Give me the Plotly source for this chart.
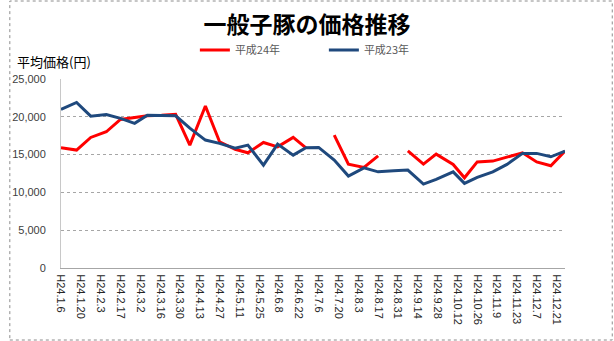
import datetime as dt
import plotly.graph_objects as go

# ---- data ----
dates = ["2012-01-06", "2012-01-17", "2012-01-27", "2012-02-07", "2012-02-17", "2012-02-27",
         "2012-03-07", "2012-03-17", "2012-03-27", "2012-04-06", "2012-04-17", "2012-04-27",
         "2012-05-08", "2012-05-17", "2012-05-28", "2012-06-07", "2012-06-18", "2012-06-27",
         "2012-07-06", "2012-07-17", "2012-07-27", "2012-08-07", "2012-08-17", "2012-08-28",
         "2012-09-07", "2012-09-18", "2012-09-27", "2012-10-09", "2012-10-17", "2012-10-26",
         "2012-11-06", "2012-11-16", "2012-11-27", "2012-12-07", "2012-12-17", "2012-12-27"]

h24 = [15900, 15600, 17270, 18020, 19650, 19870,
       20130, 20200, 20320, 16260, 21420, 16700,
       15700, 15240, 16600, 16030, 17270, 15900,
       None, 17580, 13740, 13300, 14840, None,
       15500, 13740, 15060, 13700, 11930, 14030,
       14140, 14710, 15240, 14030, 13520, 15460]

h23 = [20970, 21900, 20090, 20300, 19790, 19130,
       20220, 20200, 20130, 18500, 16920, 16480,
       15850, 16250, 13610, 16390, 14930, 15900,
       15950, 14270, 12160, 13250, 12720, 12850,
       12950, 11100, 11720, 12720, 11190, 11980,
       12720, 13700, 15160, 15160, 14710, 15460]

tick_labels = ["H24.1.6", "H24.1.20", "H24.2.3", "H24.2.17", "H24.3.2", "H24.3.16", "H24.3.30",
               "H24.4.13", "H24.4.27", "H24.5.11", "H24.5.25", "H24.6.8", "H24.6.22", "H24.7.6",
               "H24.7.20", "H24.8.3", "H24.8.17", "H24.8.31", "H24.9.14", "H24.9.28", "H24.10.12",
               "H24.10.26", "H24.11.9", "H24.11.23", "H24.12.7", "H24.12.21"]

y_ticks = [0, 5000, 10000, 15000, 20000, 25000]

title_text = "一般子豚の価格推移"
y_title = "平均価格(円)"
name24 = "平成24年"
name23 = "平成23年"


def heisei_to_date(label):
    era, m, d = label.split(".")
    year = 1988 + int(era[1:])
    return dt.date(year, int(m), int(d)).isoformat()


tick_vals = [heisei_to_date(t) for t in tick_labels]

fig = go.Figure()
fig.add_trace(go.Scatter(x=dates, y=h24, mode="lines", name=name24,
                         line=dict(color="#FF0000", width=3), connectgaps=False,
                         cliponaxis=False))
fig.add_trace(go.Scatter(x=dates, y=h23, mode="lines", name=name23,
                         line=dict(color="#1F497D", width=3), connectgaps=False,
                         cliponaxis=False))

L, R, T, B = 53, 49, 79, 73
W, H = 614, 341
pw, ph = W - L - R, H - T - B

fig.update_layout(
    width=W, height=H,
    margin=dict(l=L, r=R, t=T, b=B),
    paper_bgcolor="white", plot_bgcolor="white",
    title=dict(text=title_text, x=0.5, xanchor="center", y=1 - 25 / H, yanchor="middle",
               font=dict(family="Noto Sans CJK JP", size=23, color="black", weight="bold")),
    legend=dict(orientation="h", x=(189 - L) / pw, xanchor="left", y=(ph + T - 50) / ph,
                yanchor="middle",
                font=dict(family="Noto Sans CJK JP", size=11, color="#595959"),
                entrywidth=84, itemwidth=30, bgcolor="rgba(0,0,0,0)"),
    showlegend=True,
    xaxis=dict(type="date", range=[dates[0], dates[-1]], tickvals=tick_vals, ticktext=tick_labels,
               tickangle=90, tickfont=dict(family="Liberation Sans", size=11, color="#262626"),
               showgrid=False, showline=True, linecolor="#A6A6A6", linewidth=1,
               ticks="", zeroline=False, ticklabelstandoff=3),
    yaxis=dict(range=[0, 25000], tickvals=y_ticks, tickformat=",",
               tickfont=dict(family="Liberation Sans", size=11, color="#404040"),
               showgrid=True, gridcolor="#A6A6A6", griddash="dot", gridwidth=1,
               showline=True, linecolor="#C8C8C8", linewidth=1, zeroline=False,
               ticks="", ticklabelstandoff=12),
)

fig.add_annotation(text=y_title, xref="paper", yref="paper", x=(6 - L) / pw, xanchor="left",
                   y=(ph + T - 62) / ph, yanchor="middle", showarrow=False,
                   font=dict(family="Noto Sans CJK JP", size=13, color="black"))

# chart-area border
fig.add_shape(type="rect", xref="paper", yref="paper",
              x0=(1 - L) / pw, x1=(W - 1 - L) / pw, y0=(ph + T - (H - 1)) / ph, y1=(ph + T - 1) / ph,
              line=dict(color="#8C8C8C", width=1, dash="dot"), layer="below")

fig.write_html("out.html")
